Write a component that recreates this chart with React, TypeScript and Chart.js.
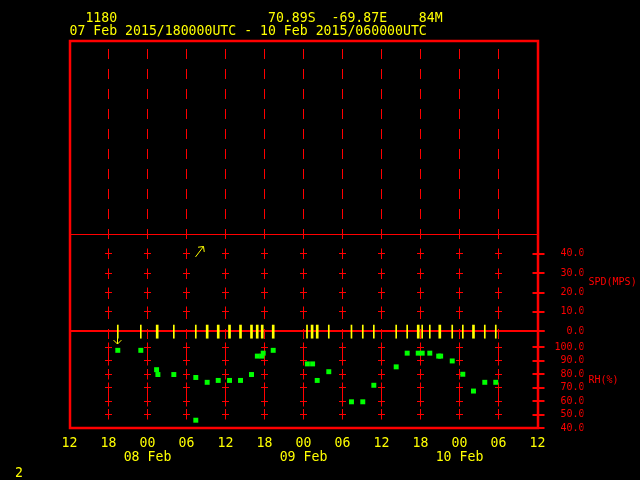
import React, { useEffect, useRef } from "react";
import { Chart, registerables } from "chart.js";

Chart.register(...registerables);

const RED = "#ff0000";
const YELLOW = "#ffff00";
const GREEN = "#00ff00";
const MONO = '"DejaVu Sans Mono", monospace';

// ---- texts ----
const HEADER_LINE1 = "  1180                   70.89S  -69.87E    84M";
const HEADER_LINE2 = "07 Feb 2015/180000UTC - 10 Feb 2015/060000UTC";
const FOOTER_TEXT = "2";
const SPD_TITLE = "SPD(MPS)";
const RH_TITLE = "RH(%)";

// ---- x axis: hours since 07 Feb 2015 12:00 UTC ----
const xTickHours = [0, 6, 12, 18, 24, 30, 36, 42, 48, 54, 60, 66, 72];
const xTickLabels = ["12", "18", "00", "06", "12", "18", "00", "06", "12", "18", "00", "06", "12"];
const xDayLabels = ["", "", "08 Feb", "", "", "", "09 Feb", "", "", "", "10 Feb", "", ""];

// ---- right axis ticks ----
const spdTicks = [0, 10, 20, 30, 40];
const rhTicks = [100, 90, 80, 70, 60, 50, 40];

// ---- wind marks (hours) ----
const windThinHours = [7.43, 10.97, 16.05, 19.43, 36.54, 39.89, 43.38, 45.12, 46.82, 50.26, 51.95, 54.26, 55.43, 58.88, 60.51, 63.89, 65.58];
const windThickHours = [13.49, 21.18, 22.88, 24.62, 26.31, 28.0, 28.88, 29.65, 31.34, 37.32, 38.11, 53.65, 56.97, 62.15];
const windBarSpan = [-3.6, 3.2];

// ---- relative humidity ----
const rhHours = [7.43, 10.97, 13.4, 13.6, 16.05, 19.43, 19.43, 21.18, 22.88, 24.62, 26.31, 28.0, 28.9, 29.6, 29.8, 31.34, 36.6, 37.4, 38.11, 39.89, 43.38, 45.12, 46.82, 50.26, 51.95, 53.65, 54.26, 55.43, 56.8, 57.1, 58.88, 60.51, 62.15, 63.89, 65.58];
const rhValues = [97.8, 97.8, 83.4, 79.8, 79.8, 77.6, 45.8, 74.0, 75.4, 75.4, 75.4, 79.8, 93.5, 93.5, 95.7, 97.8, 87.7, 87.7, 75.4, 81.9, 59.5, 59.5, 71.8, 85.5, 95.7, 95.7, 95.7, 95.7, 93.5, 93.5, 89.9, 80.0, 67.5, 74.0, 74.0];

// ---- arrows (hours, speed) ----
const arrowTailHours = [19.38, 7.43];
const arrowTailSpd = [38.4, 2.7];
const arrowHeadHours = [20.6, 7.43];
const arrowHeadSpd = [43.8, -6.6];

const crisp = (v: number) => Math.floor(v) + 0.5;

const decorPlugin = {
  id: "gempakDecor",
  beforeDraw(chart: any) {
    const { ctx, width, height } = chart;
    ctx.save();
    ctx.fillStyle = "#000";
    ctx.fillRect(0, 0, width, height);
    ctx.restore();
  },
  beforeDatasetsDraw(chart: any) {
    const { ctx, chartArea: ca, scales } = chart;
    const xs = scales.x, ys = scales.ySpd, yr = scales.yRh;
    ctx.save();
    ctx.strokeStyle = RED;
    ctx.lineWidth = 1;
    const inner = xTickHours.filter((h) => h > xs.min && h < xs.max);
    ctx.setLineDash([10, 10]);
    for (const h of inner) {
      const px = crisp(xs.getPixelForValue(h));
      ctx.beginPath();
      ctx.moveTo(px, ca.top + 8);
      ctx.lineTo(px, ca.bottom);
      ctx.stroke();
    }
    ctx.setLineDash([]);
    ctx.beginPath();
    const cross = (px: number, py: number) => {
      ctx.moveTo(px - 3.5, py);
      ctx.lineTo(px + 3.5, py);
      ctx.moveTo(px, py - 5);
      ctx.lineTo(px, py + 5);
    };
    for (const h of inner) {
      const px = crisp(xs.getPixelForValue(h));
      for (const v of spdTicks) {
        if (v <= 0) continue;
        cross(px, crisp(ys.getPixelForValue(v)));
      }
      for (const v of rhTicks) {
        if (v <= yr.min) continue;
        cross(px, crisp(yr.getPixelForValue(v)));
      }
    }
    const sep = crisp(ys.getPixelForValue(ys.max));
    ctx.moveTo(ca.left, sep);
    ctx.lineTo(ca.right, sep);
    ctx.stroke();
    // zero line of the speed panel
    const zero = Math.round(ys.getPixelForValue(0));
    ctx.lineWidth = 2;
    ctx.beginPath();
    ctx.moveTo(ca.left, zero);
    ctx.lineTo(ca.right + 7, zero);
    ctx.stroke();
    ctx.restore();
  },
  afterDatasetsDraw(chart: any) {
    const { ctx, chartArea: ca, scales } = chart;
    const xs = scales.x, ys = scales.ySpd, yr = scales.yRh;
    ctx.save();
    // arrows
    ctx.strokeStyle = YELLOW;
    ctx.lineWidth = 1;
    for (let i = 0; i < arrowTailHours.length; i++) {
      const tx = crisp(xs.getPixelForValue(arrowTailHours[i]));
      const ty = ys.getPixelForValue(arrowTailSpd[i]);
      const hx = crisp(xs.getPixelForValue(arrowHeadHours[i]));
      const hy = ys.getPixelForValue(arrowHeadSpd[i]);
      const ang = Math.atan2(hy - ty, hx - tx);
      const L = 5.5;
      ctx.beginPath();
      ctx.moveTo(tx, ty);
      ctx.lineTo(hx, hy);
      ctx.moveTo(hx + L * Math.cos(ang + Math.PI - Math.PI / 4), hy + L * Math.sin(ang + Math.PI - Math.PI / 4));
      ctx.lineTo(hx, hy);
      ctx.lineTo(hx + L * Math.cos(ang + Math.PI + Math.PI / 4), hy + L * Math.sin(ang + Math.PI + Math.PI / 4));
      ctx.stroke();
    }
    // right-axis tick marks
    ctx.strokeStyle = RED;
    ctx.lineWidth = 2;
    ctx.beginPath();
    for (const v of spdTicks) {
      const py = Math.round(ys.getPixelForValue(v));
      ctx.moveTo(ca.right - 5, py);
      ctx.lineTo(ca.right + 7, py);
    }
    for (const v of rhTicks) {
      const py = Math.round(yr.getPixelForValue(v));
      ctx.moveTo(ca.right - 5, py);
      ctx.lineTo(ca.right + 7, py);
    }
    ctx.stroke();
    // frame
    ctx.lineWidth = 2.5;
    ctx.strokeRect(ca.left + 0.5, ca.top, ca.right - ca.left, ca.bottom - ca.top);
    ctx.restore();
  },
  afterDraw(chart: any) {
    const { ctx, chartArea: ca, scales } = chart;
    const ys = scales.ySpd, yr = scales.yRh;
    ctx.save();
    ctx.textBaseline = "middle";
    ctx.textAlign = "left";
    ctx.fillStyle = YELLOW;
    ctx.font = `13.2px ${MONO}`;
    ctx.fillText(HEADER_LINE1, ca.left, 18.5);
    ctx.fillText(HEADER_LINE2, ca.left, 31.5);
    ctx.fillText(FOOTER_TEXT, 15, 474);
    ctx.fillStyle = RED;
    ctx.font = `10px ${MONO}`;
    ctx.fillText(SPD_TITLE, ca.right + 51, ys.getPixelForValue(25));
    ctx.fillText(RH_TITLE, ca.right + 51, yr.getPixelForValue(75.5));
    ctx.restore();
  },
};

const fmtTick = (v: any) => Number(v).toFixed(1).padStart(5, " ");

export default function App() {
  const ref = useRef<HTMLCanvasElement | null>(null);
  useEffect(() => {
    const canvas = ref.current;
    if (!canvas) return;
    const chart = new Chart(canvas, {
      type: "scatter",
      data: {
        datasets: [
          {
            type: "bar",
            label: "wind",
            data: windThinHours.map((h) => ({ x: h, y: windBarSpan })),
            xAxisID: "x",
            yAxisID: "ySpd",
            backgroundColor: YELLOW,
            borderWidth: 0,
            barThickness: 1,
            grouped: false,
            clip: false,
          } as any,
          {
            type: "bar",
            label: "wind2",
            data: windThickHours.map((h) => ({ x: h, y: windBarSpan })),
            xAxisID: "x",
            yAxisID: "ySpd",
            backgroundColor: YELLOW,
            borderWidth: 0,
            barThickness: 2,
            grouped: false,
            clip: false,
          } as any,
          {
            type: "scatter",
            label: "RH",
            data: rhHours.map((h, i) => ({ x: h, y: rhValues[i] })),
            xAxisID: "x",
            yAxisID: "yRh",
            pointStyle: "rect",
            pointRadius: 3.5,
            backgroundColor: GREEN,
            borderWidth: 0,
            showLine: false,
            clip: false,
          } as any,
        ],
      },
      options: {
        responsive: false,
        animation: false,
        devicePixelRatio: 1,
        events: [],
        layout: { padding: { left: 69.5, right: 56.5, top: 41, bottom: 12 } },
        plugins: { legend: { display: false }, tooltip: { enabled: false }, title: { display: false } },
        scales: {
          x: {
            type: "linear",
            position: "bottom",
            min: 0,
            max: 72,
            offset: false,
            grid: { display: false, drawTicks: false, offset: false },
            border: { display: false },
            afterBuildTicks: (s: any) => {
              s.ticks = xTickHours.map((v) => ({ value: v }));
            },
            afterFit: (s: any) => {
              s.height = 40;
            },
            ticks: {
              autoSkip: false,
              maxRotation: 0,
              minRotation: 0,
              padding: 8.5,
              color: YELLOW,
              font: { family: MONO, size: 13.2, lineHeight: "14px" },
              callback: (_v: any, i: number) =>
                xDayLabels[i] ? [xTickLabels[i], xDayLabels[i]] : xTickLabels[i],
            },
          },
          yTop: {
            type: "linear",
            position: "right",
            stack: "panels",
            stackWeight: 2,
            min: 0,
            max: 1,
            grid: { display: false, drawTicks: false },
            border: { display: false },
            ticks: { display: false },
            afterFit: (s: any) => {
              s.width = 46;
            },
          },
          ySpd: {
            type: "linear",
            position: "right",
            stack: "panels",
            stackWeight: 1,
            min: 0,
            max: 50,
            grid: { display: false, drawTicks: false },
            border: { display: false },
            afterBuildTicks: (s: any) => {
              s.ticks = spdTicks.map((v) => ({ value: v }));
            },
            afterFit: (s: any) => {
              s.width = 46;
            },
            ticks: {
              autoSkip: false,
              padding: 17,
              color: RED,
              font: { family: MONO, size: 10 },
              callback: fmtTick,
            },
          },
          yRh: {
            type: "linear",
            position: "right",
            stack: "panels",
            stackWeight: 1,
            min: 40,
            max: 112,
            grid: { display: false, drawTicks: false },
            border: { display: false },
            afterBuildTicks: (s: any) => {
              s.ticks = rhTicks.map((v) => ({ value: v }));
            },
            afterFit: (s: any) => {
              s.width = 46;
            },
            ticks: {
              autoSkip: false,
              padding: 17,
              color: RED,
              font: { family: MONO, size: 10 },
              callback: fmtTick,
            },
          },
        },
      } as any,
      plugins: [decorPlugin],
    });
    return () => chart.destroy();
  }, []);
  return (
    <div style={{ position: "fixed", left: 0, top: 0, width: 640, height: 480, background: "#000" }}>
      <canvas ref={ref} width={640} height={480} style={{ display: "block" }} />
    </div>
  );
}
